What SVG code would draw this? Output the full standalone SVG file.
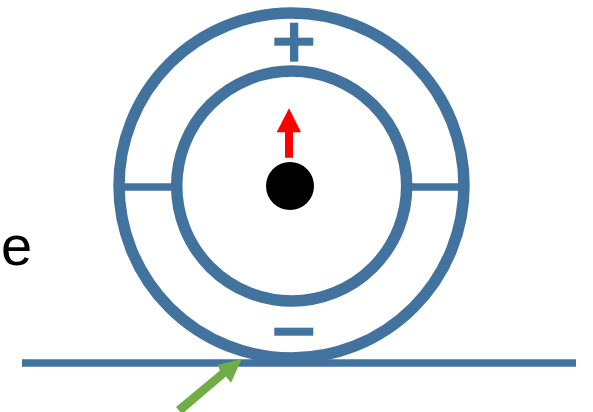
<svg xmlns="http://www.w3.org/2000/svg" width="593" height="412" viewBox="0 0 593 412">
<style>
.ring{fill:none;stroke:#42729E;stroke-width:11.5}
.bar{stroke:#42729E;stroke-width:7.5;fill:none}
.sym{fill:#42729E}
</style>
<rect width="593" height="412" fill="#fff"/>
<g id="ground"><line class="bar" x1="22" y1="363" x2="576" y2="363"/></g>
<g id="outer-ring"><circle class="ring" cx="291.5" cy="185.5" r="172.5"/></g>
<g id="inner-ring"><circle class="ring" cx="291.7" cy="186" r="115"/></g>
<g id="ties">
<line class="bar" x1="120" y1="187" x2="177" y2="187"/>
<line class="bar" x1="406" y1="187" x2="463" y2="187"/>
</g>
<g id="plus">
<rect class="sym" x="274.3" y="37.7" width="39" height="8"/>
<rect class="sym" x="290" y="22.7" width="8.3" height="39"/>
</g>
<g id="minus"><rect class="sym" x="274.3" y="327.7" width="39" height="8"/></g>
<g id="dot"><circle cx="290" cy="186" r="24" fill="#000"/></g>
<g id="connectors">
<polygon fill="#FF0000" points="285,157.7 293,157.7 293,132.3 301,132.3 289,108.3 276.7,132.3 285,132.3"/>
<polygon fill="#70AD47" points="241.7,359 231,382.7 226,376.5 182,414 176,407 220,370.5 217.3,365"/>
</g>
<text x="1" y="265" font-family="Liberation Sans, Arial, sans-serif" font-size="56" fill="#000">e</text>
</svg>
